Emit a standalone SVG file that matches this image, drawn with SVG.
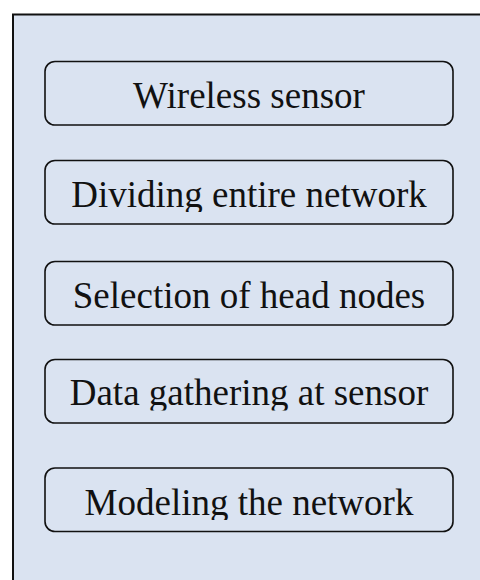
<svg xmlns="http://www.w3.org/2000/svg" width="480" height="580" viewBox="0 0 480 580">
<style>
.frame{fill:#dae3f1;stroke:#111;stroke-width:2}
.box{fill:#dae3f1;stroke:#111;stroke-width:1.6}
.lbl{font-family:"Liberation Serif","Times New Roman",serif;font-size:37px;fill:#111;text-anchor:middle}
</style>
<defs>
<clipPath id="c1"><rect x="0" y="0" width="480" height="113.5"/></clipPath>
<clipPath id="c2"><rect x="0" y="140" width="480" height="72"/></clipPath>
<clipPath id="c3"><rect x="0" y="240" width="480" height="73"/></clipPath>
<clipPath id="c4"><rect x="0" y="340" width="480" height="70.5"/></clipPath>
<clipPath id="c5"><rect x="0" y="440" width="480" height="80"/></clipPath>
</defs>
<rect class="frame" x="13" y="14.5" width="480" height="580"/>
<g id="connectors"></g>
<g id="n1">
<rect class="box" x="45" y="61.5" width="408" height="63.5" rx="10"/>
<text class="lbl" x="249" y="108" clip-path="url(#c1)">Wireless sensor</text>
</g>
<g id="n2">
<rect class="box" x="45" y="160.5" width="408" height="63.5" rx="10"/>
<text class="lbl" x="249" y="207" clip-path="url(#c2)">Dividing entire network</text>
</g>
<g id="n3">
<rect class="box" x="45" y="261.5" width="408" height="63.5" rx="10"/>
<text class="lbl" x="249" y="307.5" clip-path="url(#c3)">Selection of head nodes</text>
</g>
<g id="n4">
<rect class="box" x="45" y="359.5" width="408" height="63.5" rx="10"/>
<text class="lbl" x="249" y="405" clip-path="url(#c4)">Data gathering at sensor</text>
</g>
<g id="n5">
<rect class="box" x="45" y="468" width="408" height="63.5" rx="10"/>
<text class="lbl" x="249" y="514.5" clip-path="url(#c5)">Modeling the network</text>
</g>
</svg>
